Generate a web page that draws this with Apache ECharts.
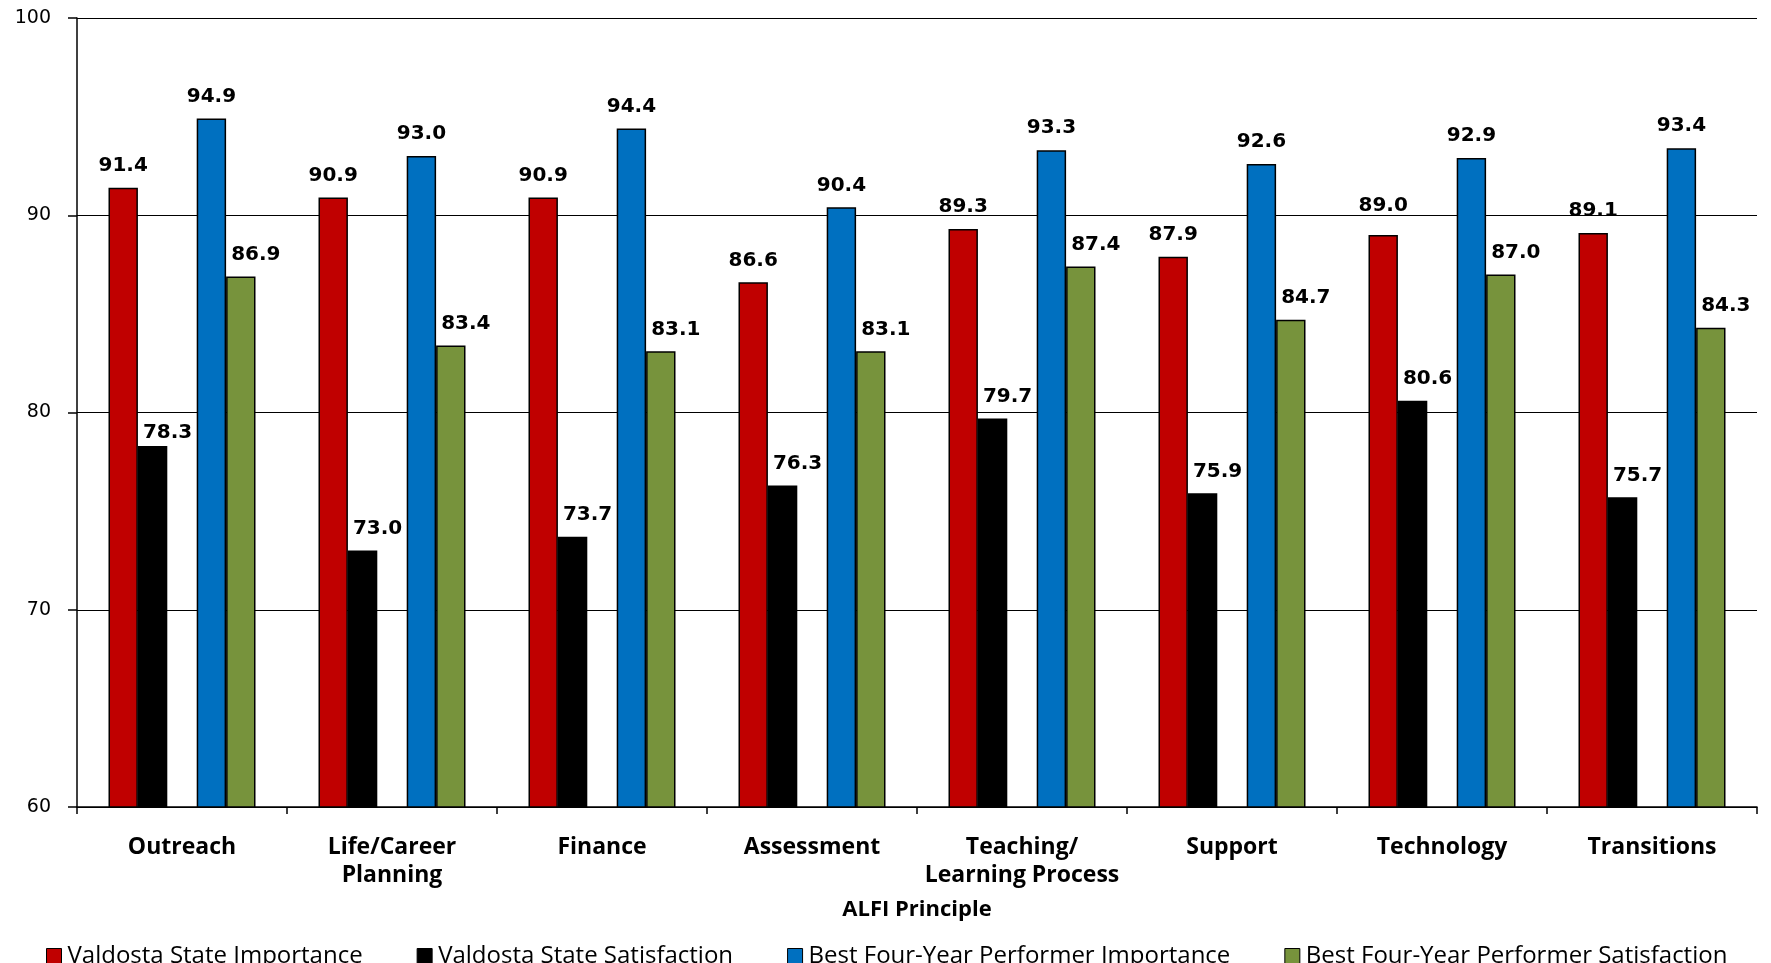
<!DOCTYPE html>
<html>
<head>
<meta charset="utf-8">
<script src="https://cdn.jsdelivr.net/npm/echarts@6/dist/echarts.min.js"></script>
<style>
html,body{margin:0;padding:0;background:#fff;}
#chart{width:1771px;height:963px;}
</style>
</head>
<body>
<div id="chart"></div>
<script>
const categories = ['Outreach', 'Life/Career\nPlanning', 'Finance', 'Assessment', 'Teaching/\nLearning Process', 'Support', 'Technology', 'Transitions'];
const vsImportance = [91.4, 90.9, 90.9, 86.6, 89.3, 87.9, 89.0, 89.1];
const vsSatisfaction = [78.3, 73.0, 73.7, 76.3, 79.7, 75.9, 80.6, 75.7];
const bestImportance = [94.9, 93.0, 94.4, 90.4, 93.3, 92.6, 92.9, 93.4];
const bestSatisfaction = [86.9, 83.4, 83.1, 83.1, 87.4, 84.7, 87.0, 84.3];
const seriesNames = ['Valdosta State Importance', 'Valdosta State Satisfaction', 'Best Four-Year Performer Importance', 'Best Four-Year Performer Satisfaction'];
const yTicks = [60, 70, 80, 90, 100];
// vertical nudges (px) of individual value labels, as placed in the original
const vsImportanceLabelNudge = [0, 0, 0, 0, 0, 0, -7, 0];
const vsSatisfactionLabelNudge = [9, 0, 0, 0, 0, 0, 0, 0];

const chart = echarts.init(document.getElementById('chart'), null, {renderer: 'canvas'});

function barSeries(name, values, color, labelDx, nudges) {
  const data = values.map((v, i) => {
    const dy = nudges ? nudges[i] : 0;
    return dy ? {value: v, label: {offset: [labelDx, dy]}} : v;
  });
  return {
    name: name,
    type: 'bar',
    data: data,
    barGap: '0%',
    barCategoryGap: '30%',
    itemStyle: {color: color, borderColor: '#000', borderWidth: 1.5},
    label: {
      show: true,
      position: 'top',
      distance: 12,
      offset: [labelDx, 0],
      formatter: p => p.value.toFixed(1),
      fontFamily: 'DejaVu Sans',
      fontWeight: 'bold',
      fontSize: 20,
      color: '#000'
    }
  };
}

const option = {
  backgroundColor: '#ffffff',
  animation: false,
  grid: {left: 77, right: 14, top: 18, bottom: 156},
  legend: {
    data: seriesNames,
    left: 41,
    top: 939,
    itemWidth: 15,
    itemHeight: 15,
    itemGap: 54,
    icon: 'rect',
    itemStyle: {borderColor: '#000', borderWidth: 1},
    textStyle: {fontFamily: 'Open Sans', fontSize: 24, color: '#000', padding: [0, 0, 0, 1]}
  },
  xAxis: {
    type: 'category',
    data: categories,
    name: 'ALFI Principle',
    nameLocation: 'middle',
    nameGap: 92,
    nameTextStyle: {fontFamily: 'Open Sans', fontWeight: 'bold', fontSize: 22, color: '#000'},
    axisLine: {lineStyle: {color: '#000', width: 1.5}},
    axisTick: {show: true, interval: 0, length: 7, lineStyle: {color: '#000', width: 1.5}},
    axisLabel: {
      interval: 0,
      margin: 26,
      fontFamily: 'Open Sans',
      fontWeight: 'bold',
      fontSize: 23,
      lineHeight: 28,
      color: '#000'
    },
    splitLine: {show: false}
  },
  yAxis: {
    type: 'value',
    min: yTicks[0],
    max: yTicks[yTicks.length - 1],
    interval: 10,
    axisLine: {show: true, lineStyle: {color: '#000', width: 1.5}},
    axisTick: {show: true, length: 9, lineStyle: {color: '#000', width: 1.5}},
    axisLabel: {margin: 26, fontFamily: 'DejaVu Sans', fontSize: 19, color: '#000'},
    splitLine: {show: true, lineStyle: {color: '#000', width: 1.2}}
  },
  series: [
    barSeries(seriesNames[0], vsImportance, '#C00000', 0, vsImportanceLabelNudge),
    barSeries(seriesNames[1], vsSatisfaction, '#000000', 15, vsSatisfactionLabelNudge),
    {name: 'spacer', type: 'bar', data: categories.map(() => null), barGap: '0%', barCategoryGap: '30%', silent: true},
    barSeries(seriesNames[2], bestImportance, '#0070C0', 0),
    barSeries(seriesNames[3], bestSatisfaction, '#77933C', 15)
  ]
};
chart.setOption(option);
</script>
</body>
</html>
